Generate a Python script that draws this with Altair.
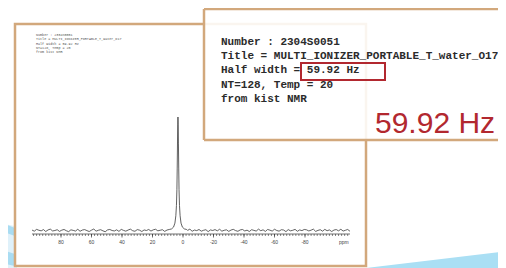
import altair as alt
import numpy as np
import pandas as pd

# ---- data ----
info_lines = [
    "Number : 2304S0051",
    "Title = MULTI_IONIZER_PORTABLE_T_water_O17",
    "Half width = 59.92 Hz",
    "NT=128, Temp = 20",
    "from kist NMR",
]
big_label = "59.92 Hz"

# baseline noise (x0.001), sampled every 1.5 ppm from 99 ppm down to -109.5 ppm
noise_milli = [
    4, -6, 10, 2, -3, 8, -9, 5, 12, -4, 0, 7, -8, 3, 9, -2, -10, 6, 1, -5,
    11, -7, 4, 8, -1, -9, 3, 13, -6, 2, 7, -3, -11, 5, 9, 0, -4, 6, -8, 10,
    1, -6, 4, 12, -2, -7, 8, 3, -9, 5, 0, 9, -5, 6, 11, -3, 2, 7, -8, 4,
    -4, 10, -2, 6, -9, 3, 8, -5, 1, 12, -7, 4, -1, 9, -6, 2, 7, -10, 5, 0,
    8, -3, 11, -6, 2, 6, -8, 4, 10, -1, -7, 5, 9, -4, 3, -9, 7, 1, -5, 12,
    -2, 6, -8, 9, 3, -5, 11, 0, -6, 7, 4, -10, 8, -3, 2, 10, -7, 5, -1, 9,
    6, -4, 3, 12, -8, 1, 7, -6, 10, -2, 5, -9, 4, 8, -3, 11, -5, 2, 9, -7,
]
noise_ppm = np.arange(99, -110.5, -1.5)[: len(noise_milli)]

peak_ppm = [9.0, 7.5, 6.2, 5.3, 4.7, 4.3, 4.0, 3.8, 3.6, 3.45, 3.3,
            3.15, 3.0, 2.8, 2.6, 2.3, 1.9, 1.3, 0.4, -0.9, -2.4]
peak_int = [0.009, 0.014, 0.03, 0.065, 0.13, 0.22, 0.36, 0.55, 0.78, 0.93, 1.0,
            0.93, 0.77, 0.55, 0.36, 0.22, 0.13, 0.065, 0.03, 0.014, 0.009]

label_ppm = [80, 60, 40, 20, 0, -20, -40, -60, -80]
label_txt = ["80", "60", "40", "20", "0", "-20", "-40", "-60", "-80"]
unit_ppm = -105.5
minor_ticks = list(range(98, -110, -2))

# ---- frames ----
rows = [(p, v / 1000) for p, v in zip(noise_ppm, noise_milli) if not (-3 < p < 9.5)]
rows += list(zip(peak_ppm, peak_int))
spec = pd.DataFrame(rows, columns=["ppm", "I"]).sort_values("ppm")
labels = pd.DataFrame({"ppm": label_ppm + [unit_ppm], "t": label_txt + ["ppm"]})
ticks = pd.DataFrame({"ppm": minor_ticks})
majors = pd.DataFrame({"ppm": label_ppm})

W, H = 490, 260
xs = alt.Scale(domain=[100, -100], range=[22.5, 327.5])
ys = alt.Scale(domain=[0, 1], range=[222.5, 109])
TAN = "#d2a87c"
RED = "#b2282f"


def deco():
    return alt.Chart(alt.Data(values=[{}]))


pale = deco().mark_point(shape="M-1,-0.8L0.3,-0.55L0.3,1L-1,1Z", filled=True, size=3600,
                         color="#dff1fa", opacity=1, strokeWidth=0).encode(
    x=alt.value(0), y=alt.value(235))
dark = deco().mark_point(
    shape="M-0.6,-0.83L0.23,-0.5L0.23,-0.23L-0.6,-0.55ZM-0.6,0.1L0.23,0.37L0.23,0.77L-0.6,0.57Z",
    filled=True, size=3600, color="#a9dcf2", opacity=1, strokeWidth=0).encode(
    x=alt.value(0), y=alt.value(235))
wedge = deco().mark_point(shape="M-1,1L1,1L1,0.76Z", filled=True, size=19600,
                          color="#aadff4", opacity=1, strokeWidth=0).encode(
    x=alt.value(428), y=alt.value(190))

left_box = deco().mark_rect(fill="white", stroke=TAN, strokeWidth=2.5).encode(
    x=alt.value(7), x2=alt.value(358), y=alt.value(16), y2=alt.value(258))

line = alt.Chart(spec).mark_line(color="#3a3a3a", strokeWidth=0.8).encode(
    x=alt.X("ppm:Q", scale=xs, axis=None),
    y=alt.Y("I:Q", scale=ys, axis=None),
)
axis_line = deco().mark_rule(color="#333", strokeWidth=0.7).encode(
    x=alt.value(24), x2=alt.value(342), y=alt.value(226))
minor = alt.Chart(ticks).mark_rule(color="#333", strokeWidth=0.6).encode(
    x=alt.X("ppm:Q", scale=xs, axis=None), y=alt.value(226), y2=alt.value(228))
major = alt.Chart(majors).mark_rule(color="#333", strokeWidth=0.7).encode(
    x=alt.X("ppm:Q", scale=xs, axis=None), y=alt.value(226), y2=alt.value(229.5))
lab = alt.Chart(labels).mark_text(fontSize=5, color="#444", baseline="middle",
                                  font="Liberation Sans").encode(
    x=alt.X("ppm:Q", scale=xs, axis=None), y=alt.value(234), text="t:N")

tiny = deco().mark_text(text=info_lines, align="left", baseline="alphabetic",
                        fontSize=3.4, lineHeight=4.2, font="Liberation Mono",
                        color="#555").encode(x=alt.value(28), y=alt.value(28.3))

# inset panel: white fill, tan edges on top / left / bottom (right side runs off the page)
inset = deco().mark_rect(fill="white", fillOpacity=0.88).encode(
    x=alt.value(196), x2=alt.value(600), y=alt.value(1), y2=alt.value(132))
edge_top = deco().mark_rule(color=TAN, strokeWidth=2.5).encode(
    x=alt.value(196), x2=alt.value(600), y=alt.value(1))
edge_bot = deco().mark_rule(color=TAN, strokeWidth=2.5).encode(
    x=alt.value(196), x2=alt.value(600), y=alt.value(132))
edge_left = deco().mark_rule(color=TAN, strokeWidth=2.5).encode(
    x=alt.value(196), y=alt.value(1), y2=alt.value(132))

inset_txt = deco().mark_text(text=info_lines, align="left", baseline="alphabetic",
                             fontSize=11.0, lineHeight=14.3, font="Liberation Mono",
                             fontWeight="bold", color="#2b2b2b").encode(
    x=alt.value(213), y=alt.value(36.8))
red_box = deco().mark_rect(fill=None, stroke=RED, strokeWidth=2).encode(
    x=alt.value(293), x2=alt.value(377), y=alt.value(55), y2=alt.value(72))
big = deco().mark_text(text=big_label, align="left", baseline="alphabetic",
                       fontSize=30, font="Liberation Sans", color=RED).encode(
    x=alt.value(367), y=alt.value(124.7))

chart = alt.layer(
    pale, dark, wedge, left_box, line, axis_line, minor, major, lab, tiny,
    inset, edge_top, edge_bot, edge_left, inset_txt, red_box, big,
).properties(
    width=W, height=H, padding=0, background="white",
    autosize=alt.AutoSizeParams(type="none"),
).configure_view(stroke=None)

chart.save("out.html", embed_options={"renderer": "svg", "actions": False})
